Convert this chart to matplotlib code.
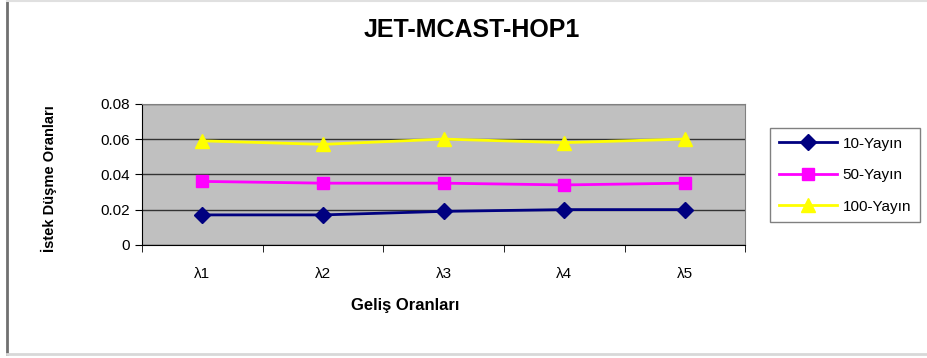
import matplotlib
matplotlib.use("Agg")
import matplotlib.pyplot as plt
from matplotlib.lines import Line2D

# Request-drop ratios per arrival rate, for three broadcast sizes
categories = ["λ1", "λ2", "λ3", "λ4", "λ5"]
series_names = ["10-Yayın", "50-Yayın", "100-Yayın"]
yayin_10 = [0.017, 0.017, 0.019, 0.020, 0.020]
yayin_50 = [0.036, 0.035, 0.035, 0.034, 0.035]
yayin_100 = [0.059, 0.057, 0.060, 0.058, 0.060]
y_ticks = [0, 0.02, 0.04, 0.06, 0.08]
y_tick_labels = ["0", "0.02", "0.04", "0.06", "0.08"]

plt.rcParams.update({
    'font.family': ['Liberation Sans', 'DejaVu Sans'],
    'font.size': 10,
})

fig = plt.figure(figsize=(9.28, 3.58), dpi=100)
ax = fig.add_axes([0.153, 0.316, 0.650, 0.394])
ax.set_facecolor('#C0C0C0')

styles = [
    dict(color='#000080', marker='D', ms=8),
    dict(color='#FF00FF', marker='s', ms=9),
    dict(color='#FFFF00', marker='^', ms=10),
]
xs = range(len(categories))
for name, vals, st in zip(series_names, [yayin_10, yayin_50, yayin_100], styles):
    ax.plot(xs, vals, lw=2, label=name, zorder=3, **st)

ax.set_xlim(-0.5, len(categories) - 0.5)
ax.set_ylim(0, 0.08)
ax.set_yticks(y_ticks)
ax.set_yticklabels(y_tick_labels, fontsize=11)
ax.yaxis.grid(True, color='#333333', lw=1)
ax.set_axisbelow(True)

# category labels in the middle of each band, tick marks on band edges
ax.set_xticks(list(xs))
ax.set_xticklabels(categories, fontsize=11)
ax.tick_params(axis='x', which='major', length=0, pad=16)
ax.set_xticks([i + 0.5 for i in range(-1, len(categories))], minor=True)
ax.tick_params(axis='x', which='minor', length=5, direction='out', color='black')
ax.tick_params(axis='y', length=5, direction='out', color='black')

for side in ['top', 'right']:
    ax.spines[side].set_color('#808080')
ax.spines['left'].set_color('black')
ax.spines['bottom'].set_color('black')

ax.set_xlabel("Geliş Oranları", fontsize=12, fontweight='bold')
ax.xaxis.set_label_coords(0.436, -0.376)
ax.set_ylabel("İstek Düşme Oranları", fontsize=10.5, fontweight='bold')
ax.yaxis.set_label_coords(-0.141, 0.468)

fig.text(0.508, 0.915, "JET-MCAST-HOP1", ha='center', va='center',
         fontsize=18, fontweight='bold')

leg = fig.legend(loc='upper left', bbox_to_anchor=(0.830, 0.642),
                 borderaxespad=0, handlelength=3.8, fontsize=11,
                 fancybox=False, edgecolor='#808080', framealpha=1,
                 borderpad=0.55, labelspacing=1.15, handletextpad=0.4)
leg.get_frame().set_linewidth(1.0)

# chart frame
fig.add_artist(Line2D([0.008, 0.008], [0.01, 1.0], color='#707070', lw=2,
                      transform=fig.transFigure))
fig.add_artist(Line2D([0.008, 1.0], [0.997, 0.997], color='#E0E0E0', lw=1.5,
                      transform=fig.transFigure))
fig.add_artist(Line2D([0.008, 1.0], [0.01, 0.01], color='#D8D8D8', lw=2,
                      transform=fig.transFigure))

fig.savefig("out.png", dpi=100)
